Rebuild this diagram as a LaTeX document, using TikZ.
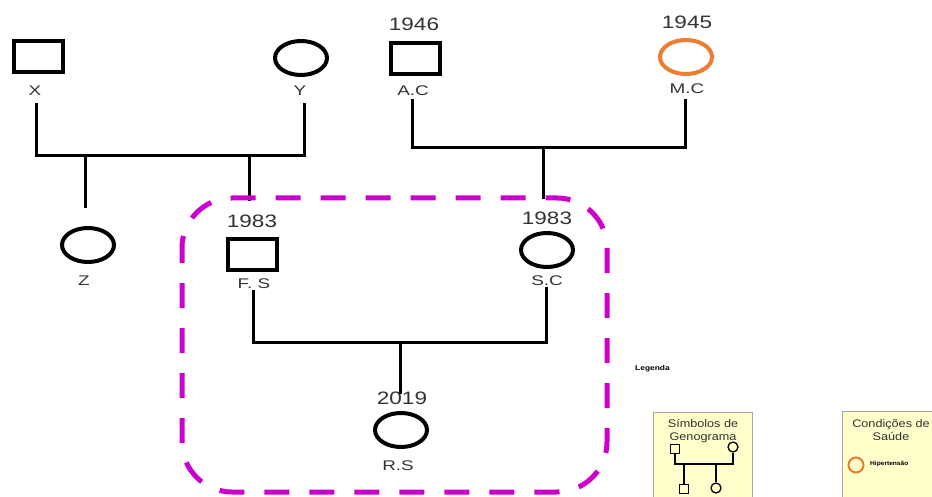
\documentclass[tikz,border=0pt]{standalone}
\usepackage{fontspec}
\usepackage{graphicx}
\setmainfont{Liberation Sans}
\usetikzlibrary{shapes.geometric}
\definecolor{txt}{RGB}{50,50,50}
\definecolor{hyp}{RGB}{237,125,49}
\definecolor{grp}{RGB}{204,0,204}
\definecolor{legfill}{RGB}{255,255,204}
\newcommand{\wideL}[1]{\scalebox{1.35}[1]{#1}}
\newcommand{\wideY}[1]{\scalebox{1.25}[1]{#1}}
\newcommand{\wideT}[1]{\scalebox{1.15}[1]{#1}}
\begin{document}
\begin{tikzpicture}[x=1pt,y=-1pt,
  male/.style={draw=black,line width=4pt,minimum width=49pt,minimum height=31pt,inner sep=0pt},
  female/.style={draw=black,line width=4pt,ellipse,minimum width=52pt,minimum height=34pt,inner sep=0pt},
  hyper/.style={female,draw=hyp},
  lbl/.style={text=txt,font=\fontsize{14}{14}\selectfont,inner sep=0pt},
  yr/.style={text=txt,font=\fontsize{18}{18}\selectfont,inner sep=0pt},
  rel/.style={line width=3pt,line cap=rect},
  legbox/.style={draw=gray!70,line width=1pt,fill=legfill},
  legtitle/.style={text=txt,font=\fontsize{11}{13}\selectfont,align=center,inner sep=0pt},
  small/.style={line width=1.3pt}]
\path[use as bounding box] (0,0) rectangle (932,497);
\clip (0,0) rectangle (932,497);
% generation 1
\node[male] (X) at (38,57) {};
\node[lbl] (Xl) at (35,91) {\wideL{X}};
\node[female] (Y) at (301,58) {};
\node[lbl] (Yl) at (300,91) {\wideL{Y}};
\node[male] (AC) at (415,59) {};
\node[yr] (ACy) at (414,24) {\wideY{1946}};
\node[lbl] (ACl) at (413,91) {\wideL{A.C}};
\node[hyper] (MC) at (686,57) {};
\node[yr] (MCy) at (687,22) {\wideY{1945}};
\node[lbl] (MCl) at (687,89) {\wideL{M.C}};
% generation 2
\node[female] (Z) at (88,245) {};
\node[lbl] (Zl) at (84,281) {\wideL{Z}};
\node[male] (FS) at (252,255) {};
\node[yr] (FSy) at (252,221) {\wideY{1983}};
\node[lbl] (FSl) at (254,284) {\wideL{F. S}};
\node[female] (SC) at (547,250) {};
\node[yr] (SCy) at (547,218) {\wideY{1983}};
\node[lbl] (SCl) at (547,281) {\wideL{S.C}};
% generation 3
\node[female] (RS) at (401,430) {};
\node[yr] (RSy) at (402,398) {\wideY{2019}};
\node[lbl] (RSl) at (398,466) {\wideL{R.S}};
% coordinates
\coordinate (xa) at (36,105);
\coordinate (ya) at (304,105);
\coordinate (za) at (85,207);
\coordinate (fa) at (249,200);
\coordinate (aa) at (412,101);
\coordinate (ma) at (685,101);
\coordinate (sa) at (543,198);
\coordinate (fb) at (253,291);
\coordinate (sb) at (546,288);
\coordinate (ra) at (400,392);
% relations
\draw[rel] (xa) -- (36,156) -- (304,156) -- (ya);
\draw[rel] (85,156) -- (za);
\draw[rel] (249,156) -- (fa);
\draw[rel] (aa) -- (412,148) -- (685,148) -- (ma);
\draw[rel] (543,148) -- (sa);
\draw[rel] (fb) -- (253,342) -- (546,342) -- (sb);
\draw[rel] (400,342) -- (ra);
% group
\draw[grp,line width=5pt,dash pattern=on 25pt off 20pt,rounded corners=50pt,dash phase=10pt]
  (182,198) rectangle (607,492);
% legend
\node[text=black,font=\bfseries\fontsize{7}{7}\selectfont,inner sep=0pt,anchor=west] (leg) at (635,369) {\scalebox{1.2}[1]{Legenda}};
\draw[legbox] (653,412) rectangle (752,510);
\node[legtitle] (lg1) at (703,431) {\wideT{Símbolos de}\\\wideT{Genograma}};
\node[small,draw,minimum size=9pt,inner sep=0pt] (lm) at (675,449) {};
\node[small,draw,circle,minimum size=10pt,inner sep=0pt] (lf) at (733,447) {};
\node[small,draw,minimum size=9pt,inner sep=0pt] (lc1) at (684,489) {};
\node[small,draw,circle,minimum size=10pt,inner sep=0pt] (lc2) at (716,488) {};
\draw[small] (lm.south) -- (675,464) -- (733,464) -- (lf.south);
\draw[small] (684,464) -- (lc1.north);
\draw[small] (716,464) -- (lc2.north);
\draw[legbox] (842,411) rectangle (945,510);
\node[legtitle] (lg2) at (891,430) {\wideT{Condições de}\\\wideT{Saúde}};
\node[draw=hyp,line width=2pt,circle,minimum size=15pt,inner sep=0pt] (lh) at (856,465) {};
\node[text=black,font=\bfseries\fontsize{6}{6}\selectfont,inner sep=0pt,anchor=west] (lht) at (870,464) {\scalebox{1.1}[1]{Hipertensão}};
\end{tikzpicture}
\end{document}
